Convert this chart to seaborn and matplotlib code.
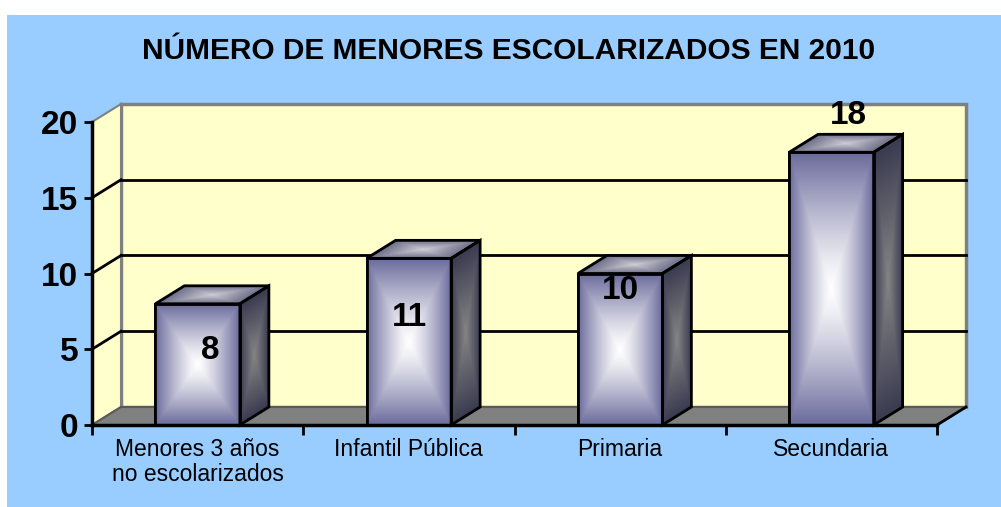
import numpy as np
import matplotlib
matplotlib.use("Agg")
import matplotlib.pyplot as plt
import seaborn as sns
from matplotlib.patches import Polygon, Rectangle
from matplotlib.transforms import IdentityTransform

plt.rcParams["font.family"] = ["Liberation Sans", "DejaVu Sans"]

# ---------------- data ----------------
categories = ["Menores 3 años\nno escolarizados", "Infantil Pública", "Primaria", "Secundaria"]
values = [8, 11, 10, 18]
value_labels = ["8", "11", "10", "18"]
y_ticks = [0, 5, 10, 15, 20]
title = "NÚMERO DE MENORES ESCOLARIZADOS EN 2010"

# where the value labels sit (data y) and their horizontal nudge in pixels
label_y = [4.95, 7.1, 8.85, 20.4]
label_dx = [13, 1, 0, 17]

W, H = 1001, 507
DEPTH = np.array([29.0, 18.0])  # 3D depth offset in pixels (x right, y up)

fig = plt.figure(figsize=(W / 100, H / 100), dpi=100)
fig.patch.set_facecolor("white")
fig.add_artist(Rectangle((7 / W, 0), (W - 7) / W, (H - 15) / H,
                         transform=fig.transFigure, facecolor="#99CCFF",
                         edgecolor="none", zorder=0))

ax = fig.add_axes([92 / W, (H - 425) / H, (937 - 92) / W, (425 - 122) / H])
ax.patch.set_alpha(0)

sns.barplot(x=list(range(len(values))), y=values, ax=ax, color="#6A6A9C",
            edgecolor="black", linewidth=2, width=0.4, zorder=2)
bars = list(ax.patches)

ax.set_xlim(-0.5, len(values) - 0.5)
ax.set_ylim(0, 20)
ax.set_autoscale_on(False)

ID = IdentityTransform()


def disp(x, y):
    return np.array(ax.transData.transform((x, y)))


def face(origin, va, vb, c_center, c_edge, power=1.0, zorder=3):
    origin = np.asarray(origin, float)
    va = np.asarray(va, float)
    vb = np.asarray(vb, float)
    pts = np.array([origin, origin + va, origin + va + vb, origin + vb])
    x0, y0 = np.floor(pts.min(0))
    x1, y1 = np.ceil(pts.max(0))
    nx, ny = int(x1 - x0), int(y1 - y0)
    X, Y = np.meshgrid(x0 + 0.5 + np.arange(nx), y0 + 0.5 + np.arange(ny))
    inv = np.linalg.inv(np.array([va, vb]).T)
    d = np.stack([X - origin[0], Y - origin[1]], -1)
    uv = d @ inv.T
    u, v = uv[..., 0], uv[..., 1]
    t = np.clip(np.maximum(np.abs(2 * u - 1), np.abs(2 * v - 1)), 0, 1) ** power
    cc = np.array(matplotlib.colors.to_rgb(c_center))
    ce = np.array(matplotlib.colors.to_rgb(c_edge))
    rgba = np.zeros((ny, nx, 4))
    rgba[..., :3] = cc * (1 - t)[..., None] + ce * t[..., None]
    rgba[..., 3] = ((u >= 0) & (u <= 1) & (v >= 0) & (v <= 1)).astype(float)
    ax.imshow(rgba, extent=(x0, x1, y0, y1), origin="lower", transform=ID,
              aspect="auto", interpolation="nearest", zorder=zorder, clip_on=False)
    ax.add_patch(Polygon(pts, closed=True, fill=False, edgecolor="black", lw=2,
                         transform=ID, zorder=zorder + 0.1, clip_on=False,
                         joinstyle="miter"))


# ---------------- walls and floor ----------------
xl, xr = ax.get_xlim()
p0, p1 = disp(xl, 0), disp(xr, 0)
ptl, ptr = disp(xl, 20), disp(xr, 20)

# back wall
back = np.array([p0, p1, ptr, ptl]) + DEPTH
ax.add_patch(Polygon(back, closed=True, facecolor="#FFFFCC", edgecolor="#808080",
                     lw=2.5, transform=ID, zorder=0.5, clip_on=False))
# left wall
ax.add_patch(Polygon([p0, p0 + DEPTH, ptl + DEPTH, ptl], closed=True,
                     facecolor="#FFFFCC", edgecolor="#808080", lw=1.5,
                     transform=ID, zorder=0.6, clip_on=False))
# floor
ax.add_patch(Polygon([p0, p1, p1 + DEPTH, p0 + DEPTH], closed=True,
                     facecolor="#808080", edgecolor="#5A5A5A", lw=1.5,
                     transform=ID, zorder=0.7, clip_on=False))
ax.plot([p1[0], p1[0] + DEPTH[0]], [p1[1], p1[1] + DEPTH[1]], color="black",
        lw=2, transform=ID, zorder=0.8, clip_on=False)

# gridlines on the walls
for yv in y_ticks[1:-1]:
    a, b = disp(xl, yv), disp(xr, yv)
    ax.plot([a[0] + DEPTH[0], b[0] + DEPTH[0]], [a[1] + DEPTH[1], b[1] + DEPTH[1]],
            color="black", lw=2, transform=ID, zorder=0.9, clip_on=False)
    ax.plot([a[0], a[0] + DEPTH[0]], [a[1], a[1] + DEPTH[1]],
            color="black", lw=2, transform=ID, zorder=0.9, clip_on=False)

# ---------------- 3D bars ----------------
for i, bar in enumerate(bars):
    bx, bw, bh = bar.get_x(), bar.get_width(), bar.get_height()
    fl, fr, ft = disp(bx, 0), disp(bx + bw, 0), disp(bx, bh)
    wv = fr - fl
    hv = ft - fl
    # front
    face(fl, wv, hv, "#FFFFFF", "#6A6A9C", power=1.25, zorder=3)
    # side
    face(fr, DEPTH, hv, "#858585", "#3A3A50", power=1.0, zorder=3)
    # top
    face(ft, wv, DEPTH, "#CDCDD5", "#6C6C88", power=1.0, zorder=3)

    cx = disp(bx + bw / 2, label_y[i])
    ax.text(cx[0] + label_dx[i], cx[1], value_labels[i], transform=ID,
            ha="center", va="center", fontsize=24, fontweight="bold",
            zorder=6, clip_on=False)

# ---------------- axes ----------------
for s in ["top", "right"]:
    ax.spines[s].set_visible(False)
ax.spines["left"].set_linewidth(2.5)
ax.spines["bottom"].set_linewidth(2.5)
ax.spines["left"].set_zorder(5)
ax.spines["bottom"].set_zorder(5)

ax.set_yticks(y_ticks)
ax.set_yticklabels([str(t) for t in y_ticks], fontsize=24, fontweight="bold")
ax.tick_params(axis="y", length=6, width=2, pad=4)

ax.set_xticks(range(len(categories)))
ax.set_xticklabels(categories, fontsize=16.5, linespacing=1.15)
ax.set_xticks(np.arange(-0.5, len(categories)), minor=True)
ax.tick_params(axis="x", which="major", length=0, pad=9)
ax.tick_params(axis="x", which="minor", length=7, width=2, direction="out")
ax.set_xlabel("")
ax.set_ylabel("")

fig.text(509 / W, 1 - 51 / H, title, ha="center", va="center",
         fontsize=21.5, fontweight="bold")

fig.savefig("out.png", dpi=100)
